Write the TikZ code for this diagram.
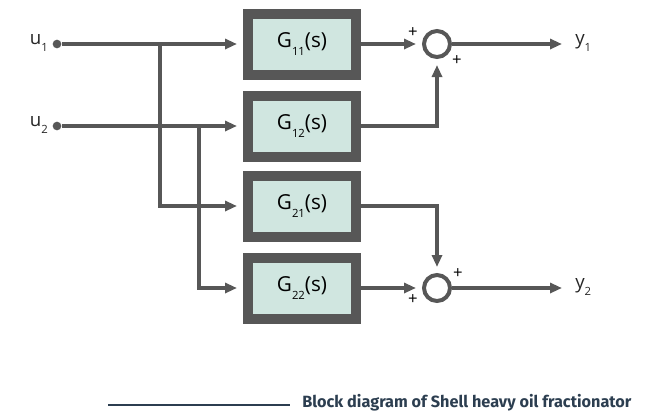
\documentclass[tikz,border=0pt]{standalone}
\usepackage{fontspec}
\setmainfont{Open Sans}
\newfontfamily\capfont{Fira Sans}
\usetikzlibrary{shapes,arrows.meta,positioning,calc}

\definecolor{wiregray}{HTML}{575757}
\definecolor{blockfill}{HTML}{D0E6E0}
\definecolor{capblue}{HTML}{2C3E50}

\newcommand{\sig}[2]{#1\raisebox{-0.75ex}{\fontsize{8.5}{10}\selectfont #2}}

\tikzset{
  block/.style={draw=wiregray, fill=blockfill, line width=7.5pt,
    minimum width=81pt, minimum height=45.75pt, inner sep=0pt,
    font=\fontsize{15.5}{18}\selectfont},
  sumnode/.style={circle, draw=wiregray, line width=3pt, minimum size=19.5pt, inner sep=0pt},
  terminal/.style={circle, fill=wiregray, minimum size=6.5pt, inner sep=0pt},
  wire/.style={draw=wiregray, line width=3pt},
  arr/.style={wire, -{Triangle[length=9pt,width=7.5pt]}, shorten >=4.5pt},
  signal/.style={text=black!85, font=\fontsize{14}{15}\selectfont, inner sep=0pt},
  plus/.style={font=\fontsize{12.5}{12}\selectfont, inner sep=0pt}
}

\begin{document}
\begin{tikzpicture}[x=0.75pt, y=-0.75pt]
\useasboundingbox (0,0) rectangle (664,412);

% blocks
\node[block] (g11) at (302,44) {\sig{G}{11}(s)};
\node[block] (g12) at (302,126) {\sig{G}{12}(s)};
\node[block] (g21) at (302,206) {\sig{G}{21}(s)};
\node[block] (g22) at (302,288) {\sig{G}{22}(s)};

% summing junctions
\node[sumnode] (sum1) at (437,44) {};
\node[sumnode] (sum2) at (437,288) {};

% inputs and outputs
\node[terminal] (u1) at (57,44) {};
\node[terminal] (u2) at (57,126) {};
\node[signal, anchor=base east] (u1lbl) at (48,44) {\sig{u}{1}};
\node[signal, anchor=base east] (u2lbl) at (48,126) {\sig{u}{2}};
\coordinate (out1) at (568,44);
\coordinate (out2) at (568,288);
\node[signal, anchor=base west] (y1) at (575,44) {\sig{y}{1}};
\node[signal, anchor=base west] (y2) at (575,288) {\sig{y}{2}};

% branch points
\coordinate (br1) at (160,44);
\coordinate (br2) at (199,126);

\draw[arr] (u1) -- (g11.west);
\draw[arr] (u2) -- (g12.west);
\draw[arr] (br1) |- (g21.west);
\draw[arr] (br2) |- (g22.west);

\draw[arr] (g11.east) -- (sum1.west);
\draw[arr] (g12.east) -| (sum1.south);
\draw[arr] (g21.east) -| (sum2.north);
\draw[arr] (g22.east) -- (sum2.west);
\draw[arr] (sum1.east) -- (out1);
\draw[arr] (sum2.east) -- (out2);

% signs
\node[plus] (p11) at (413,33) {+};
\node[plus] (p12) at (457,61) {+};
\node[plus] (p21) at (458,274) {+};
\node[plus] (p22) at (413,300) {+};

% caption
\draw[capblue, line width=1.5pt] (108,405) -- (290,405);
\node[anchor=west, text=capblue, inner sep=0pt,
  font=\capfont\bfseries\fontsize{12.2}{14}\selectfont] (caption) at (302,403)
  {Block diagram of Shell heavy oil fractionator};
\end{tikzpicture}
\end{document}
